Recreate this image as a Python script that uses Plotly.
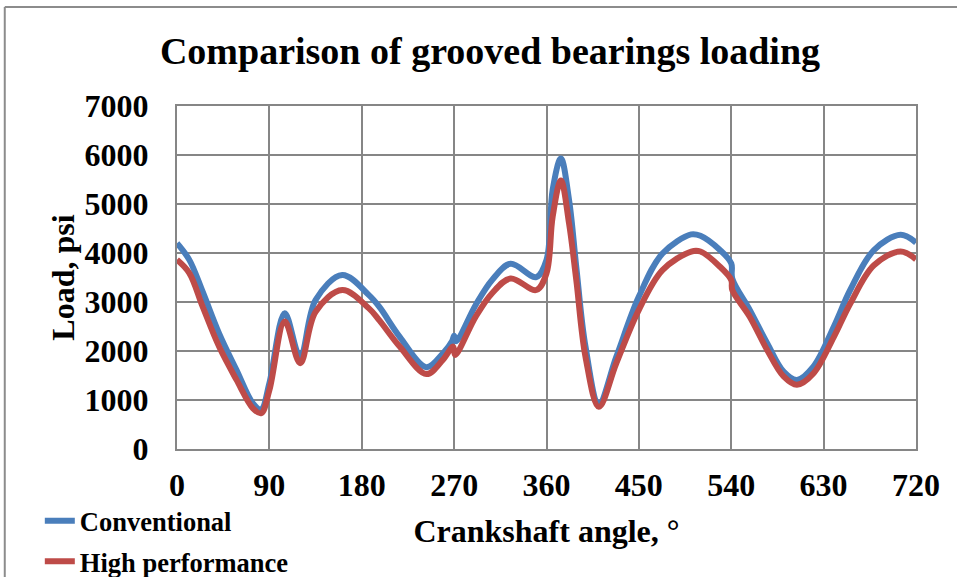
import plotly.graph_objects as go

# Crankshaft angle (deg) and bearing load (psi)
angle_conv = [0, 12, 25, 41, 58, 74, 82, 90, 105, 120, 135, 161, 187, 197, 217, 243, 259, 268, 270, 272,
              291, 307, 325, 350, 360, 366, 374, 382, 389, 398, 411, 428, 450, 473, 501, 510, 529, 540, 541,
              558, 575, 591, 604, 620, 640, 656, 679, 705, 720]
load_conv = [4200, 3860, 3210, 2360, 1610, 930, 810, 1340, 2770, 1880, 3040, 3550, 3140, 2905, 2290, 1670, 1950, 2200, 2310, 2200,
             2940, 3450, 3780, 3510, 3860, 5290, 5930, 5080, 3720, 2090, 930, 1880, 3110, 3990, 4380, 4350, 4060, 3790, 3480,
             2840, 2160, 1580, 1410, 1680, 2500, 3250, 4060, 4370, 4210]

angle_hp = [0, 12, 25, 41, 58, 74, 82, 90, 105, 120, 135, 161, 187, 197, 217, 243, 259, 269, 271,
            291, 307, 325, 350, 360, 366, 374, 382, 389, 398, 411, 428, 450, 473, 501, 510, 529, 540, 541,
            558, 575, 591, 604, 620, 640, 656, 679, 705, 720]
load_hp = [3860, 3590, 2905, 2090, 1410, 830, 730, 1200, 2600, 1750, 2800, 3245, 2870, 2630, 2090, 1530, 1820, 2090, 1920,
           2700, 3180, 3480, 3245, 3585, 4740, 5480, 4600, 3450, 1880, 860, 1750, 2840, 3650, 4030, 4030, 3720, 3450, 3245,
           2700, 2020, 1480, 1310, 1540, 2290, 2970, 3750, 4030, 3870]

x_ticks = [0, 90, 180, 270, 360, 450, 540, 630, 720]
y_ticks = [0, 1000, 2000, 3000, 4000, 5000, 6000, 7000]

FONT = "Liberation Serif"
GRID = "#868686"

fig = go.Figure()
fig.add_trace(go.Scatter(x=angle_conv, y=load_conv, mode="lines", name="Conventional",
                         legendgroup="a",
                         line=dict(color="#4A7EBB", width=6, shape="spline", smoothing=1.0)))
fig.add_trace(go.Scatter(x=angle_hp, y=load_hp, mode="lines", name="High performance",
                         legendgroup="b",
                         line=dict(color="#BE4B48", width=6, shape="spline", smoothing=1.0)))

fig.update_layout(
    width=957, height=577,
    margin=dict(l=177, r=41, t=106, b=128, autoexpand=False),
    paper_bgcolor="white", plot_bgcolor="white",
    font=dict(family=FONT, color="black", size=30, weight="bold"),
    title=dict(text="Comparison of grooved bearings loading", x=490/957, xanchor="center",
               xref="container", y=1 - 51/577, yref="container", yanchor="middle",
               font=dict(family=FONT, size=38, weight="bold", color="black")),
    xaxis=dict(range=[0, 720], tickmode="array", tickvals=x_ticks, ticktext=[str(v) for v in x_ticks],
               showgrid=True, gridcolor=GRID, gridwidth=2, zeroline=False,
               showline=True, linecolor=GRID, linewidth=2, mirror=True,
               ticks="", ticklabelstandoff=7, automargin=False,
               tickfont=dict(family=FONT, size=32, weight="bold"),
               title=dict(text="Crankshaft angle, °", standoff=17,
                          font=dict(family=FONT, size=32, weight="bold"))),
    yaxis=dict(range=[0, 7000], tickmode="array", tickvals=y_ticks, ticktext=[str(v) for v in y_ticks],
               showgrid=True, gridcolor=GRID, gridwidth=2, zeroline=False,
               showline=True, linecolor=GRID, linewidth=2, mirror=True,
               ticks="", ticklabelstandoff=20, automargin=False,
               tickfont=dict(family=FONT, size=32, weight="bold"),
               title=dict(text="Load, psi", standoff=0,
                          font=dict(family=FONT, size=32, weight="bold"))),
    legend=dict(x=(40 - 177) / 738, y=(449 - 497) / 343, xanchor="left", yanchor="top",
                orientation="v", tracegroupgap=3, bgcolor="rgba(0,0,0,0)",
                font=dict(family=FONT, size=26.5, weight="bold", color="black")),
    shapes=[
        dict(type="line", xref="paper", yref="paper", layer="above",
             x0=(5 - 177) / 738, x1=(5 - 177) / 738, y0=(449 - 7) / 343, y1=(449 - 600) / 343,
             line=dict(color="#8C8C8C", width=2)),
        dict(type="line", xref="paper", yref="paper", layer="above",
             x0=(5 - 177) / 738, x1=(990 - 177) / 738, y0=(449 - 7) / 343, y1=(449 - 7) / 343,
             line=dict(color="#8C8C8C", width=2)),
    ],
)

# remove the default page margin so the 957x577 figure sits at the window origin
fig.write_html("out.html", config={"displayModeBar": False},
               post_script="document.body.style.margin='0';document.body.style.overflow='hidden';")
